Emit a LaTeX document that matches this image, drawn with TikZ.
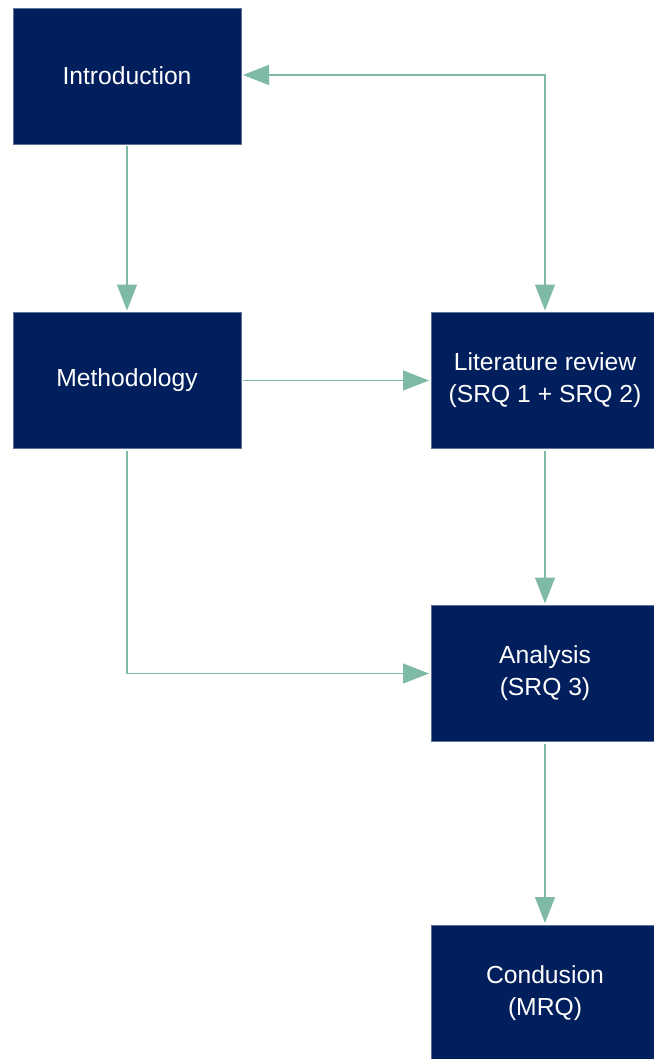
\documentclass[tikz,border=0pt]{standalone}
\usepackage{fontspec}
\setmainfont{Liberation Sans}
\usetikzlibrary{arrows.meta}
\definecolor{boxblue}{HTML}{001F5C}
\definecolor{boxrim}{HTML}{5C7397}
\definecolor{linkgreen}{HTML}{7FBAA9}

\begin{document}
\begin{tikzpicture}[x=0.75pt, y=-0.75pt,
    every node/.style={fill=boxblue, draw=boxrim, line width=0.5pt, text=white,
        minimum width=171pt, minimum height=102pt, align=center,
        font=\fontsize{18.5}{24}\selectfont, inner sep=0pt, outer sep=1.5pt},
    link/.style={-{Triangle[length=19.5pt, width=15pt]}, linkgreen, line width=1pt}
]
\useasboundingbox (0,0) rectangle (653,1059);
  \node (intro) at (127,76) {Introduction};
  \node (meth) at (127,380.5) {Methodology};
  \node (lit) at (545,380.5) {Literature review\\(SRQ 1 + SRQ 2)};
  \node (ana) at (545,673.5) {Analysis\\(SRQ 3)};
  \node (concl) at (545,993) {Condusion\\(MRQ)};
\draw[link] (intro) -- (meth);
\draw[link, {Triangle[length=19.5pt, width=15pt]}-{Triangle[length=19.5pt, width=15pt]}]
    (intro.east |- 0,75) -| (lit.north);
\draw[link] (meth) -- (lit);
\draw[link] (lit) -- (ana);
\draw[link] (meth.south) |- (ana.west);
\draw[link] (ana) -- (concl);
\end{tikzpicture}
\end{document}
